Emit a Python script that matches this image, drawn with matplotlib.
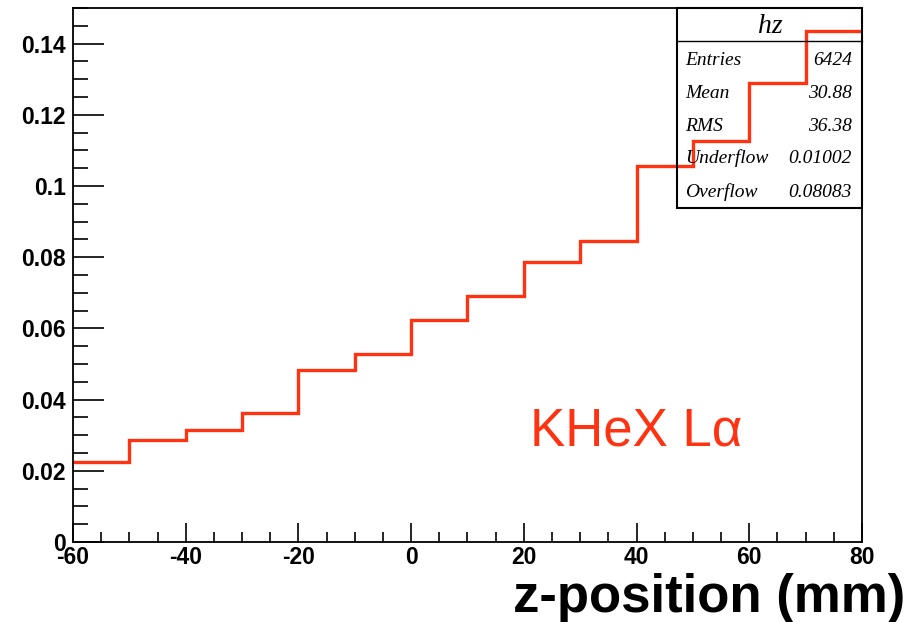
import matplotlib
matplotlib.use("Agg")
import matplotlib.pyplot as plt
from matplotlib.patches import Rectangle
from matplotlib.lines import Line2D
from matplotlib.ticker import MultipleLocator, FuncFormatter

# ---- data ----
bin_edges = [-60, -50, -40, -30, -20, -10, 0, 10, 20, 30, 40, 50, 60, 70, 80]
bin_values = [0.0225, 0.0287, 0.0315, 0.0363, 0.0484, 0.0529, 0.0624,
              0.0692, 0.0787, 0.0846, 0.1055, 0.1126, 0.1288, 0.1434]
stat_names = ["Entries", "Mean", "RMS", "Underflow", "Overflow"]
stat_values = ["6424", "30.88", "36.38", "0.01002", "0.08083"]
hist_name = "hz"
x_label = "z-position (mm)"
annotation = "KHeX L\u03b1"

RED = "#ff3311"
W, H = 920, 622

fig = plt.figure(figsize=(W / 100, H / 100), dpi=100)
ax = fig.add_axes([73 / W, 1 - 542 / H, (862 - 73) / W, (542 - 8) / H])

ax.stairs(bin_values, bin_edges, color=RED, linewidth=2.4, baseline=None)
ax.set_xlim(-60, 80)
ax.set_ylim(0, 0.15)

ax.xaxis.set_major_locator(MultipleLocator(20))
ax.xaxis.set_minor_locator(MultipleLocator(5))
ax.yaxis.set_major_locator(MultipleLocator(0.02))
ax.yaxis.set_minor_locator(MultipleLocator(0.005))

def yfmt(v, pos):
    if abs(v) < 1e-12:
        return "0"
    s = f"{v:.2f}"
    if s.endswith("0"):
        s = s[:-1]
    return s

ax.yaxis.set_major_formatter(FuncFormatter(yfmt))
ax.xaxis.set_major_formatter(FuncFormatter(lambda v, p: f"{int(round(v))}"))

ax.tick_params(axis="both", which="both", direction="in", top=False, right=False,
               width=1.2, color="black")
ax.tick_params(axis="x", which="major", length=14, pad=3)
ax.tick_params(axis="x", which="minor", length=7)
ax.tick_params(axis="y", which="major", length=22, pad=5)
ax.tick_params(axis="y", which="minor", length=11)
for lbl in ax.get_xticklabels() + ax.get_yticklabels():
    lbl.set_fontfamily("Liberation Sans")
    lbl.set_fontweight("bold")
    lbl.set_fontsize(16.5)
for sp in ax.spines.values():
    sp.set_linewidth(1.3)

fig.text(905 / W, 1 - 612 / H, x_label, ha="right", va="baseline",
         fontsize=38, fontweight="bold", family="Liberation Sans")

fig.text(530 / W, 1 - 445 / H, annotation, color=RED, fontsize=38,
         family="Liberation Sans", ha="left", va="baseline")

# ---- stats box ----
bx0, bx1, by0, by1 = 677, 862, 8, 208
fig.patches.append(Rectangle((bx0 / W, 1 - by1 / H), (bx1 - bx0) / W, (by1 - by0) / H,
                             transform=fig.transFigure, fill=False, edgecolor="black",
                             linewidth=1.5, zorder=5))
fig.lines.append(Line2D([bx0 / W, bx1 / W], [1 - 41 / H, 1 - 41 / H],
                        transform=fig.transFigure, color="black", linewidth=1.0, zorder=5))
fig.text(770 / W, 1 - 33 / H, hist_name, ha="center", va="baseline", fontsize=20,
         family="Liberation Serif", style="italic", zorder=6)
row_y = [65, 98, 131, 163, 197]
for name, val, yy in zip(stat_names, stat_values, row_y):
    fig.text(685 / W, 1 - yy / H, name, ha="left", va="baseline", fontsize=14,
             family="Liberation Serif", style="italic", zorder=6)
    fig.text(852 / W, 1 - yy / H, val, ha="right", va="baseline", fontsize=14,
             family="Liberation Serif", style="italic", zorder=6)

fig.savefig("out.png", dpi=100)
